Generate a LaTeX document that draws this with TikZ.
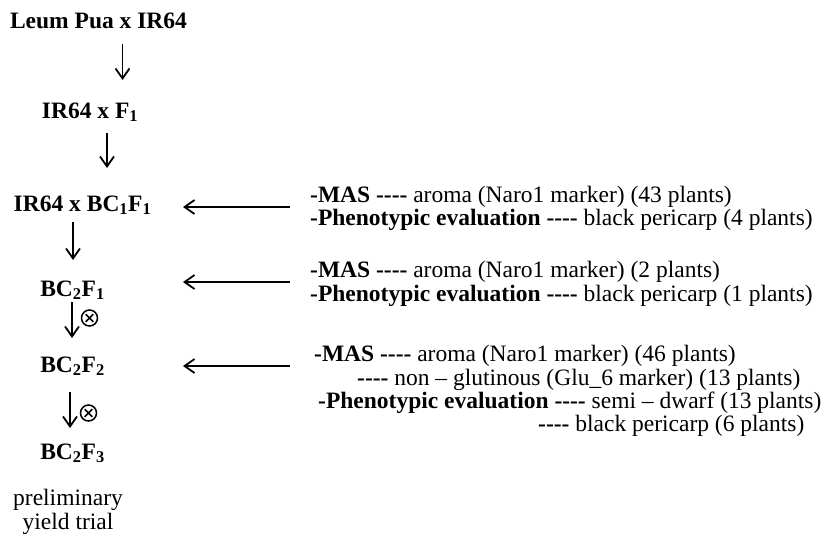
\documentclass[tikz,border=0pt]{standalone}
\usepackage{fontspec}
\setmainfont{Liberation Serif}
\usetikzlibrary{arrows.meta}
\tikzset{
  txt/.style={inner sep=0pt, font=\fontsize{23.5}{24}\selectfont},
  stage/.style={txt, font=\fontsize{23.5}{24}\selectfont\bfseries, anchor=base},
  note/.style={txt, anchor=base west},
  flow/.style={line width=1.8pt, -{Straight Barb[length=10pt,width=14pt,line width=1.8pt]}},
  selfing/.style={circle, draw, line width=1.5pt, inner sep=0pt, minimum size=16pt,
    path picture={
      \draw[line width=1.5pt]
        ([shift={(-3.8pt,-3.8pt)}]path picture bounding box.center) --
        ([shift={(3.8pt,3.8pt)}]path picture bounding box.center)
        ([shift={(-3.8pt,3.8pt)}]path picture bounding box.center) --
        ([shift={(3.8pt,-3.8pt)}]path picture bounding box.center);
    }}
}
% four hyphens without the dash ligature
\newcommand{\dsh}{\textbf{-{}-{}-{}-}}
\begin{document}
\begin{tikzpicture}[x=1pt,y=-1pt]
\useasboundingbox (0,0) rectangle (827,533);

% breeding stages
\node[stage] (p0) at (98.5,28) {Leum Pua x IR64};
\node[stage] (p1) at (90,118) {IR64 x F\textsubscript{1}};
\node[stage] (p2) at (82.5,211) {IR64 x BC\textsubscript{1}F\textsubscript{1}};
\node[stage] (p3) at (72.5,296) {BC\textsubscript{2}F\textsubscript{1}};
\node[stage] (p4) at (72.5,372) {BC\textsubscript{2}F\textsubscript{2}};
\node[stage] (p5) at (72.5,459) {BC\textsubscript{2}F\textsubscript{3}};
\node[txt, anchor=base] (p6) at (68,505) {preliminary};
\node[txt, anchor=base] (p7) at (68,529) {yield trial};

% arrow end points
\coordinate (a0s) at (122.5,44);  \coordinate (a0e) at (122.5,80);
\coordinate (a1s) at (107,133);   \coordinate (a1e) at (107,168);
\coordinate (a2s) at (73,222);    \coordinate (a2e) at (73,260);
\coordinate (a3s) at (72,302);    \coordinate (a3e) at (72,338);
\coordinate (a4s) at (70,392);    \coordinate (a4e) at (70,428);

\draw[flow] (a0s) -- (a0e);
\draw[flow] (a1s) -- (a1e);
\draw[flow] (a2s) -- (a2e);
\draw[flow] (a3s) -- (a3e);
\draw[flow] (a4s) -- (a4e);

% selfing marks
\node[selfing] (x1) at (89.5,318) {};
\node[selfing] (x2) at (88.5,413) {};

% selection notes
\node[note] (n1a) at (310,202) {\textbf{-MAS \dsh} aroma (Naro1 marker) (43 plants)};
\node[note] (n1b) at (310,225) {\textbf{-Phenotypic evaluation \dsh} black pericarp (4 plants)};

\node[note] (n2a) at (310,277) {\textbf{-MAS \dsh} aroma (Naro1 marker) (2 plants)};
\node[note] (n2b) at (310,301) {\textbf{-Phenotypic evaluation \dsh} black pericarp (1 plants)};

\node[note] (n3a) at (314,361) {\textbf{-MAS \dsh} aroma (Naro1 marker) (46 plants)};
\node[note] (n3b) at (357,385) {\dsh{} non -- glutinous (Glu\_6 marker) (13 plants)};
\node[note] (n3c) at (318,408) {\textbf{-Phenotypic evaluation \dsh} semi -- dwarf (13 plants)};
\node[note] (n3d) at (538,431) {\dsh{} black pericarp (6 plants)};

% feedback arrows
\coordinate (b1s) at (290,207); \coordinate (b1e) at (183,207);
\coordinate (b2s) at (290,282); \coordinate (b2e) at (183,282);
\coordinate (b3s) at (290,366); \coordinate (b3e) at (183,366);
\draw[flow] (b1s) -- (b1e);
\draw[flow] (b2s) -- (b2e);
\draw[flow] (b3s) -- (b3e);
\end{tikzpicture}
\end{document}
